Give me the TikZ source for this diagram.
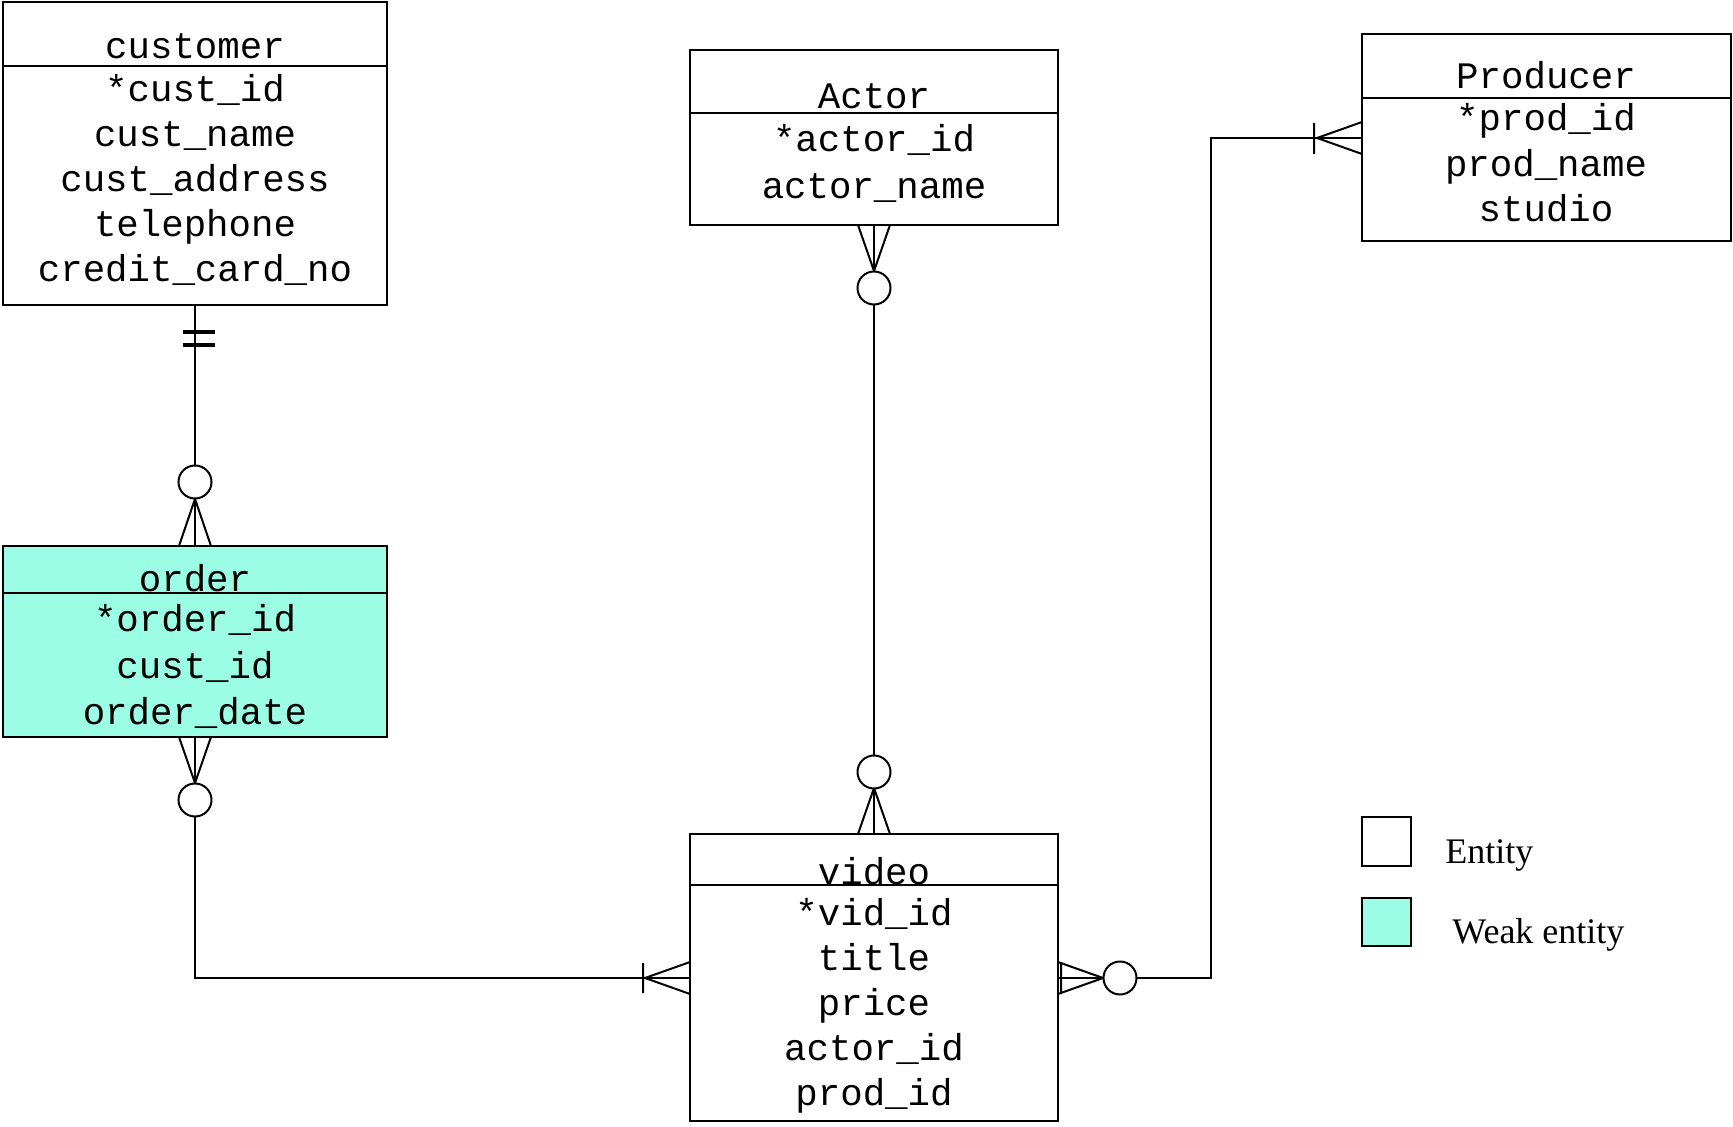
\documentclass[tikz,border=0pt]{standalone}
\usepackage{fontspec}
\newfontfamily\ermono{Liberation Mono}
\newfontfamily\erserif{Liberation Serif}
\definecolor{weakfill}{RGB}{155,253,228}

\begin{document}
\begin{tikzpicture}[x=.5pt,y=-.5pt,
  box/.style={draw,line width=1.1pt,inner sep=0pt,outer sep=0pt,anchor=north west},
  attr/.style={anchor=base,inner sep=0pt,font=\ermono\fontsize{18.7}{22}\selectfont},
  legend/.style={anchor=base west,inner sep=0pt,font=\erserif\fontsize{18}{22}\selectfont},
  conn/.style={line width=1pt}]
 \path[use as bounding box] (0,0) rectangle (1733,1127);
 % entity boxes
 \node[box,minimum width=192pt,minimum height=151.5pt] (cust) at (3,2){};
 \node[box,fill=weakfill,minimum width=192pt,minimum height=95.5pt] (order) at (3,546){};
 \node[box,minimum width=184pt,minimum height=87.5pt] (actor) at (690,50){};
 \node[box,minimum width=184.5pt,minimum height=103.5pt] (prod) at (1362,34){};
 \node[box,minimum width=184pt,minimum height=143.5pt] (video) at (690,834){};
 \draw[line width=1.1pt] (cust.west |- 0,66) -- (cust.east |- 0,66);
 \draw[line width=1.1pt] (order.west |- 0,593) -- (order.east |- 0,593);
 \draw[line width=1.1pt] (actor.west |- 0,113) -- (actor.east |- 0,113);
 \draw[line width=1.1pt] (prod.west |- 0,98) -- (prod.east |- 0,98);
 \draw[line width=1.1pt] (video.west |- 0,885) -- (video.east |- 0,885);
 % names and attributes
 \node[attr] (cust0) at (195,59){customer};
 \foreach \t [count=\i] in {*cust\_id,cust\_name,cust\_address,telephone,credit\_card\_no}
  \node[attr] (cust\i) at (195,57+45*\i){\t};
 \node[attr] (order0) at (195,592){order};
 \foreach \t [count=\i] in {*order\_id,cust\_id,order\_date}
  \node[attr] (order\i) at (195,586+46*\i){\t};
 \node[attr] (actor0) at (874,109){Actor};
 \foreach \t [count=\i] in {*actor\_id,actor\_name}
  \node[attr] (actor\i) at (874,105+47*\i){\t};
 \node[attr] (prod0) at (1546,89){Producer};
 \foreach \t [count=\i] in {*prod\_id,prod\_name,studio}
  \node[attr] (prod\i) at (1546,85.5+45.5*\i){\t};
 \node[attr] (video0) at (874,884){video};
 \foreach \t [count=\i] in {*vid\_id,title,price,actor\_id,prod\_id}
  \node[attr] (video\i) at (874,880+45*\i){\t};
 % customer -- order
 \draw[conn] (cust.south) -- (order.north);
 \draw[line width=2pt] (183,332) -- (215,332) (183,345) -- (215,345);
 \draw[conn] (179,546) -- (195,499) -- (211,546);
 \draw[conn,fill=white] (195,482) circle[radius=8.25pt];
 % order -- video
 \coordinate (bend1) at (195,978);
 \draw[conn] (order.south) -- (bend1) -- (bend1 -| video.west);
 \draw[conn] (179,737) -- (195,783) -- (211,737);
 \draw[conn,fill=white] (195,800) circle[radius=8.25pt];
 \draw[conn] (690,962) -- (645,978) -- (690,994) (643,963) -- (643,993);
 % actor -- video
 \draw[conn] (actor.south) -- (video.north);
 \draw[conn] (858,225) -- (874,271) -- (890,225);
 \draw[conn,fill=white] (874,288) circle[radius=8.25pt];
 \draw[conn] (858,834) -- (874,788) -- (890,834);
 \draw[conn,fill=white] (874,772) circle[radius=8.25pt];
 % video -- producer
 \coordinate (bend2) at (1211,978);
 \coordinate (bend3) at (1211,138);
 \draw[conn] (video.east |- bend2) -- (bend2) -- (bend3) -- (bend3 -| prod.west);
 \draw[conn] (1058,962) -- (1103,978) -- (1058,994) (1061,962) -- (1061,994);
 \draw[conn,fill=white] (1120,978) circle[radius=8.25pt];
 \draw[conn] (1362,122) -- (1317,138) -- (1362,154) (1314,123) -- (1314,154);
 % legend
 \node[box,minimum width=24.5pt,minimum height=24.5pt] (ent) at (1362,817){};
 \node[box,fill=weakfill,minimum width=24.5pt,minimum height=24pt] (weak) at (1362,898){};
 \node[legend] (entlabel) at (1445,863){Entity};
 \node[legend] (weaklabel) at (1452,943){Weak entity};
\end{tikzpicture}
\end{document}
